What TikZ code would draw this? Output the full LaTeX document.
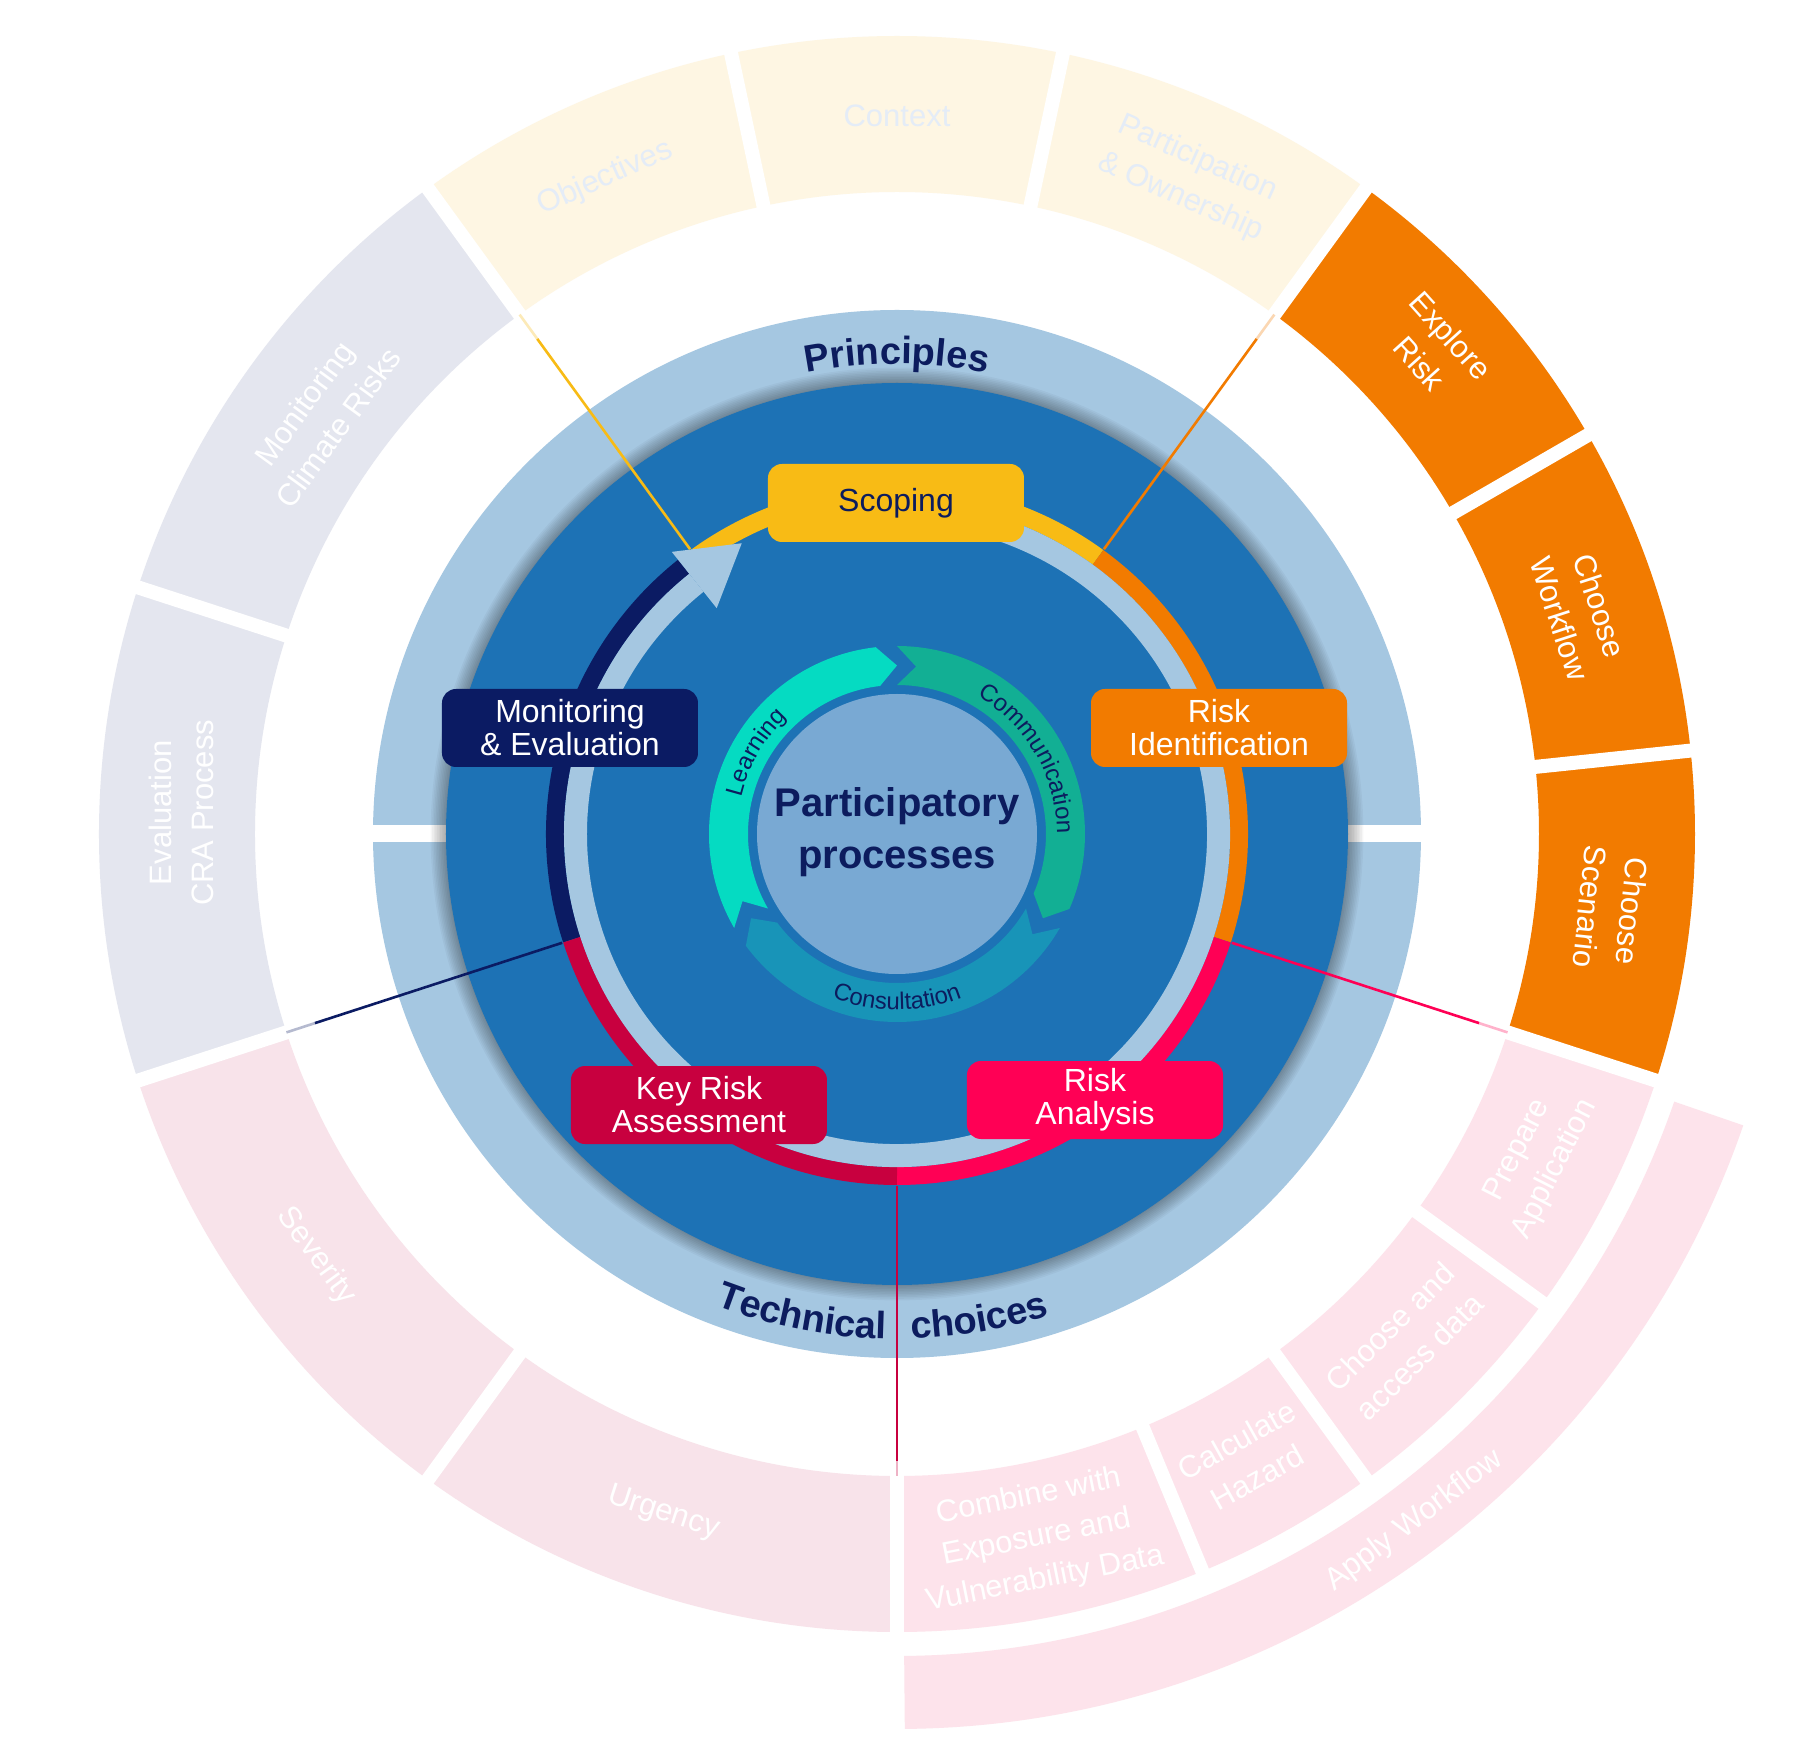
\documentclass[tikz,border=0pt]{standalone}
\usepackage{fontspec}
\setmainfont{Liberation Sans}
\usetikzlibrary{decorations.text}
\definecolor{discblue}{HTML}{1D72B5}
\definecolor{ringblue}{HTML}{A5C7E1}
\definecolor{coreblue}{HTML}{79A9D3}
\definecolor{navyc}{HTML}{0B1B63}
\definecolor{txtnavy}{HTML}{0C1C5E}
\definecolor{scopey}{HTML}{F8BB15}
\definecolor{riorange}{HTML}{F27B00}
\definecolor{rapink}{HTML}{FF0055}
\definecolor{kracrim}{HTML}{C8003F}
\definecolor{learnc}{HTML}{05DBC2}
\definecolor{commc}{HTML}{12AF94}
\definecolor{consc}{HTML}{1894B8}
\definecolor{creamc}{HTML}{FEF6E3}
\definecolor{greyc}{HTML}{E4E6EF}
\definecolor{kpink}{HTML}{F8E3EA}
\definecolor{rpink}{HTML}{FDE3EB}
\definecolor{creamtxt}{HTML}{E4ECF7}
\newcommand\fPrinc{\fontsize{38}{40}\selectfont\bfseries}
\newcommand\fTeal{\fontsize{24}{26}\selectfont}
\newcommand\annsec[3]{\fill[#3] (#1:642pt) arc[start angle=#1, end angle=#2, radius=642pt] -- (#2:798pt) arc[start angle=#2, end angle=#1, radius=798pt] -- cycle;}
\newcommand\tealarrow[2]{\fill[#2] (#1:188pt) arc[start angle=#1, end angle=#1-113.5, radius=188pt] -- (#1-120:168.5pt) -- (#1-113.5:149pt) arc[start angle=#1-113.5, end angle=#1, radius=149pt] -- (#1-6.5:168.5pt) -- cycle;}
\tikzset{
  outertxt/.style={font=\fontsize{31}{42}\selectfont, align=center, inner sep=0pt},
  stagebox/.style={rounded corners=14pt, minimum width=256pt, minimum height=78pt, align=center, font=\fontsize{32}{33}\selectfont, inner sep=0pt},
  conn/.style={line width=2.6pt},
  connfaint/.style={line width=2.6pt, opacity=0.3},
  gapline/.style={white, line width=14pt},
  stagearc/.style={line width=18pt},
}
\begin{document}
\begin{tikzpicture}[x=1pt,y=1pt]
\useasboundingbox (-897,-930) rectangle (900,834);
\fill[white] (-897,-930) rectangle (900,834);

% outer sectors
\annsec{126}{102}{creamc}
\annsec{102}{78}{creamc}
\annsec{78}{54}{creamc}
\annsec{54}{30}{riorange}
\annsec{30}{6}{riorange}
\annsec{6}{-18}{riorange}
\annsec{-18}{-36}{rpink}
\annsec{-36}{-54}{rpink}
\annsec{-54}{-67.5}{rpink}
\annsec{-67.5}{-90}{rpink}
\annsec{-90}{-126}{kpink}
\annsec{-126}{-162}{kpink}
\annsec{-162}{-198}{greyc}
\annsec{162}{126}{greyc}
\fill[rpink] (-89.5:822pt) arc[start angle=-89.5, end angle=-19, radius=822pt] -- (-19:895pt) arc[start angle=-19, end angle=-89.5, radius=895pt] -- cycle;
\foreach \a in {126,102,78,54,30,6,-18,-36,-54,-67.5,-90,-126,-162,162}
  \draw[gapline] (\a:626pt) -- (\a:806pt);

% outer texts
\node[outertxt, text=creamtxt, rotate=24] (tobj) at (114:718pt) {Objectives};
\node[outertxt, text=creamtxt] (tctx) at (90:718pt) {Context};
\node[outertxt, text=creamtxt, rotate=-24] (tpart) at (66:718pt) {Participation\\\& Ownership};
\node[outertxt, text=white, rotate=-48] (texp) at (42:724pt) {Explore\\Risk};
\node[outertxt, text=white, rotate=-72] (tcw) at (18:718pt) {Choose\\Workflow};
\node[outertxt, text=white, rotate=-96] (tcs) at (-6:718pt) {Choose\\Scenario};
\node[outertxt, text=white, rotate=63] (tprep) at (-27:718pt) {Prepare\\Application};
\node[outertxt, text=white, rotate=45] (tcad) at (-45:718pt) {Choose and\\access data};
\node[outertxt, text=white, rotate=29.25] (tcalc) at (-60.75:716pt) {Calculate\\Hazard};
\node[outertxt, text=white, rotate=11.25] (tcomb) at (-78.75:718pt) {Combine with\\Exposure and\\Vulnerability Data};
\node[outertxt, text=white, rotate=37] (tapply) at (-53:860pt) {Apply Workflow};
\node[outertxt, text=white, rotate=-18] (turg) at (-109:718pt) {Urgency};
\node[outertxt, text=white, rotate=-54] (tsev) at (-144:718pt) {Severity};
\node[outertxt, text=white, rotate=90] (teval) at (178.3:716pt) {Evaluation\\CRA Process};
\node[outertxt, text=white, rotate=54] (tmon) at (144:712pt) {Monitoring\\Climate Risks};

% principles ring and disc
\fill[ringblue] (0,0) circle[radius=524pt];
\fill[white] (-527,-8.5) rectangle (-440,8.5);
\fill[white] (440,-8.5) rectangle (527,8.5);
\foreach \r in {452,453.6,...,467}
  \fill[black, opacity=0.035] (0,0) circle[radius=\r pt];
\fill[discblue] (0,0) circle[radius=451pt];

\path[decorate, decoration={text along path, text={|\fPrinc|Principles}, text align=center, text color=txtnavy}] (140:470pt) arc[start angle=140, end angle=40, radius=470pt];
\path[decorate, decoration={text along path, text={|\fPrinc|Technical}, text align=right, text color=txtnavy}] (-150:505pt) arc[start angle=-150, end angle=-91.2, radius=505pt];
\path[decorate, decoration={text along path, text={|\fPrinc|choices}, text align=left, text color=txtnavy}] (-88.4:505pt) arc[start angle=-88.4, end angle=-30, radius=505pt];

% stage arcs
\draw[stagearc, navyc] (198:342pt) arc[start angle=198, end angle=128.6, radius=342pt];
\draw[stagearc, scopey] (126:342pt) arc[start angle=126, end angle=54, radius=342pt];
\draw[stagearc, riorange] (54:342pt) arc[start angle=54, end angle=-18, radius=342pt];
\draw[stagearc, rapink] (-18:342pt) arc[start angle=-18, end angle=-90, radius=342pt];
\draw[stagearc, kracrim] (-90:342pt) arc[start angle=-90, end angle=-162, radius=342pt];
\draw[ringblue, line width=23pt] (106:321.5pt) arc[start angle=106, end angle=-231.4, radius=321.5pt];
\fill[ringblue] (128.6:361pt) -- (118.1:329.6pt) -- (128.6:289pt) -- cycle;

% connectors
\coordinate (ya) at (126:352pt); \coordinate (yb) at (126:612pt); \coordinate (yc) at (126:642pt);
\coordinate (oa) at (54:352pt); \coordinate (ob) at (54:612pt); \coordinate (oc) at (54:642pt);
\coordinate (pa) at (-18:352pt); \coordinate (pb) at (-18:612pt); \coordinate (pc) at (-18:642pt);
\coordinate (ka) at (-90:352pt); \coordinate (kb) at (-90:627pt); \coordinate (kc) at (-90:642pt);
\coordinate (na) at (198:352pt); \coordinate (nb) at (198:612pt); \coordinate (nc) at (198:642pt);
\draw[conn, scopey] (ya) -- (yb); \draw[connfaint, scopey] (yb) -- (yc);
\draw[conn, riorange] (oa) -- (ob); \draw[connfaint, riorange] (ob) -- (oc);
\draw[conn, rapink] (pa) -- (pb); \draw[connfaint, rapink] (pb) -- (pc);
\draw[conn, kracrim] (ka) -- (kb); \draw[connfaint, kracrim] (kb) -- (kc);
\draw[conn, navyc] (na) -- (nb); \draw[connfaint, navyc] (nb) -- (nc);

% participatory cycle
\tealarrow{210}{learnc}
\tealarrow{90}{commc}
\tealarrow{-30}{consc}
\fill[coreblue] (0,0) circle[radius=140pt];
\path[decorate, decoration={text along path, text={|\fTeal|Learning}, text align=center, text color=txtnavy}] (200:160pt) arc[start angle=200, end angle=100, radius=160pt];
\path[decorate, decoration={text along path, text={|\fTeal|Communication}, text align=center, text color=txtnavy}] (85:160pt) arc[start angle=85, end angle=-25, radius=160pt];
\path[decorate, decoration={text along path, text={|\fTeal|Consultation}, text align=center, text color=txtnavy}] (-145:176pt) arc[start angle=-145, end angle=-35, radius=176pt];
\node[font=\fontsize{40}{52}\selectfont\bfseries, text=txtnavy, align=center] (pp) at (0,1.5) {Participatory\\processes};

% stage boxes
\node[stagebox, fill=scopey, text=txtnavy] (scoping) at (-1,331) {Scoping};
\node[stagebox, fill=riorange, text=white] (riskid) at (322,106) {Risk\\Identification};
\node[stagebox, fill=navyc, text=white] (monev) at (-327,106) {Monitoring\\\& Evaluation};
\node[stagebox, fill=kracrim, text=white] (kra) at (-198,-271) {Key Risk\\Assessment};
\node[stagebox, fill=rapink, text=white] (ra) at (198,-266) {Risk\\Analysis};
\end{tikzpicture}
\end{document}
